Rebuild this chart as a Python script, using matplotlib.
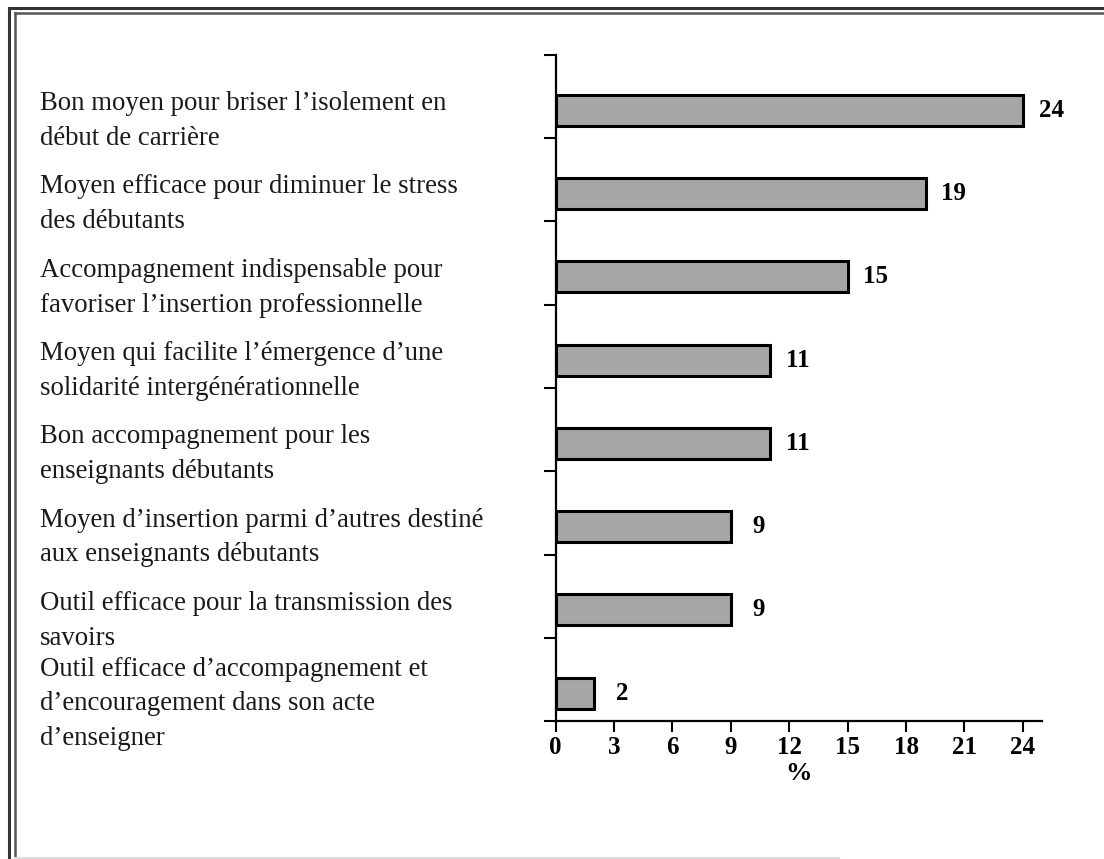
import matplotlib
matplotlib.use("Agg")
import matplotlib.pyplot as plt
from matplotlib.lines import Line2D
from matplotlib.transforms import blended_transform_factory

# data
categories = [
    "Bon moyen pour briser l\u2019isolement en\ndébut de carrière",
    "Moyen efficace pour diminuer le stress\ndes débutants",
    "Accompagnement indispensable pour\nfavoriser l\u2019insertion professionnelle",
    "Moyen qui facilite l\u2019émergence d\u2019une\nsolidarité intergénérationnelle",
    "Bon accompagnement pour les\nenseignants débutants",
    "Moyen d\u2019insertion parmi d\u2019autres destiné\naux enseignants débutants",
    "Outil efficace pour la transmission des\nsavoirs",
    "Outil efficace d\u2019accompagnement et\nd\u2019encouragement dans son acte\nd\u2019enseigner",
]
values = [24, 19, 15, 11, 11, 9, 9, 2]
xticks = [0, 3, 6, 9, 12, 15, 18, 21, 24]

plt.rcParams['font.family'] = ['Liberation Serif', 'DejaVu Serif']

fig = plt.figure(figsize=(11.04, 8.59), dpi=100)
ax = fig.add_axes([0.5032, 0.1606, 0.441, 0.7754])

n = len(categories)
ypos = [i + 0.665 for i in range(n)]
ax.barh(ypos, values, height=0.37, color='#a6a6a6', edgecolor='black', linewidth=2.2)

ax.set_ylim(n, 0)
ax.set_xlim(0, 25.0)
ax.set_yticks(range(n + 1))
ax.set_yticklabels([])
ax.set_xticks(xticks)
ax.set_xticklabels([str(t) for t in xticks], fontsize=18, fontweight='bold')
ax.tick_params(axis='y', direction='out', length=9, width=1.5)
ax.tick_params(axis='x', direction='out', length=8, width=1.5, pad=3)
ax.set_xlabel('%', fontsize=19, fontweight='bold', labelpad=2)

for s in ['top', 'right']:
    ax.spines[s].set_visible(False)
for s in ['left', 'bottom']:
    ax.spines[s].set_linewidth(1.6)

# value labels
for y, v in zip(ypos, values):
    ax.text(v + 1.45, y, str(v), ha='center', va='center',
            fontsize=18, fontweight='bold', clip_on=False)

# category labels, left aligned in the figure
tr = blended_transform_factory(fig.transFigure, ax.transData)
for i, c in enumerate(categories):
    ax.text(0.036, ypos[i] + 0.13, c, transform=tr, ha='left', va='center',
            fontsize=19.3, linespacing=1.52, color='#1a1a1a')

# double frame line at left and top, faint line at the bottom
def fline(xs, ys, lw, col):
    fig.add_artist(Line2D(xs, ys, transform=fig.transFigure, lw=lw, color=col))

fline([0.0085, 0.0085], [0, 0.991], 2.2, '#333333')
fline([0.0135, 0.0135], [0, 0.985], 1.8, '#555555')
fline([0.0085, 1], [0.991, 0.991], 2.2, '#333333')
fline([0.0135, 1], [0.985, 0.985], 1.8, '#555555')
fline([0.0135, 0.76], [0.0015, 0.0015], 1.5, '#dddddd')

fig.savefig('out.png', dpi=100)
